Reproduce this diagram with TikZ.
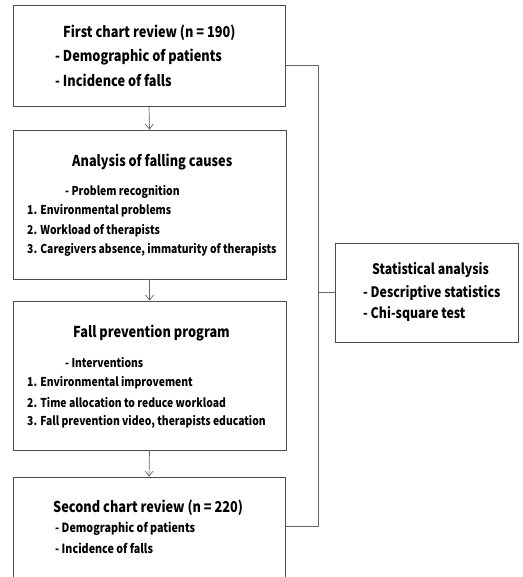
\documentclass[tikz,border=0pt]{standalone}
\usepackage{fontspec}
\setmainfont{Noto Sans CJK KR}[FakeStretch=0.85]
\usetikzlibrary{arrows.meta}
\begin{document}
\begin{tikzpicture}[x=1pt,y={(0pt,-1pt)},
  box/.style={draw=black!70,line width=0.8pt,rectangle,inner sep=0pt},
  conn/.style={draw=black!60,line width=0.7pt},
  arr/.style={conn,-{Straight Barb[length=5pt,width=8pt]}},
  tl/.style={anchor=west,inner sep=0pt,font=\bfseries\fontsize{14.5}{18}\selectfont},
  tt/.style={anchor=west,inner sep=0pt,font=\bfseries\fontsize{15}{18}\selectfont},
  ts/.style={anchor=west,inner sep=0pt,font=\bfseries\fontsize{12.2}{14}\selectfont},
  tq/.style={anchor=west,inner sep=0pt,font=\bfseries\fontsize{12.6}{14}\selectfont}]
\useasboundingbox (0,0) rectangle (522,577);
\clip (0,0) rectangle (522,577);
% boxes
\node[box,minimum width=272pt,minimum height=101pt] (b1) at (149,55.5) {};
\node[box,minimum width=273pt,minimum height=149pt] (b2) at (149.5,204.5) {};
\node[box,minimum width=273pt,minimum height=149pt] (b3) at (149.5,375.5) {};
\node[box,minimum width=272pt,minimum height=108pt] (b4) at (149,531) {};
\node[box,minimum width=183pt,minimum height=99pt] (b5) at (426.5,292.5) {};
% texts box1
\node[tt] (t11) at (63,33) {First chart review (n = 190)};
\node[tt] (t12) at (55,57) {- Demographic of patients};
\node[tt] (t13) at (55,80) {- Incidence of falls};
% box2
\node[tt] (t21) at (72,162) {Analysis of falling causes};
\node[ts] (t22) at (65,192) {- Problem recognition};
\node[ts] (t23) at (27,211) {1. Environmental problems};
\node[ts] (t24) at (27,231) {2. Workload of therapists};
\node[ts] (t25) at (27,250) {3. Caregivers absence, immaturity of therapists};
% box3
\node[tt] (t31) at (73,333) {Fall prevention program};
\node[ts] (t32) at (65,363) {- Interventions};
\node[ts] (t33) at (27,383) {1. Environmental improvement};
\node[ts] (t34) at (27,403) {2. Time allocation to reduce workload};
\node[ts] (t35) at (27,422) {3. Fall prevention video, therapists education};
% box4
\node[tt] (t41) at (53,508) {Second chart review (n = 220)};
\node[tq] (t42) at (55,529) {- Demographic of patients};
\node[tq] (t43) at (55,548) {- Incidence of falls};
% box5
\node[tl] (t51) at (372,270) {Statistical analysis};
\node[tl] (t52) at (363,293) {- Descriptive statistics};
\node[tl] (t53) at (363,314) {- Chi-square test};
% connectors
\draw[arr] (b1.south) -- (b2.north);
\draw[arr] (b2.south) -- (b3.north);
\draw[arr] (b3.south) -- (b4.north);
\coordinate (j1) at (318,65);
\coordinate (j2) at (318,526);
\draw[conn] (b1.east |- j1) -- (j1) -- (j2) -- (b4.east |- j2);
\draw[conn] (b5.west -| j1) -- (b5.west);
\end{tikzpicture}
\end{document}
